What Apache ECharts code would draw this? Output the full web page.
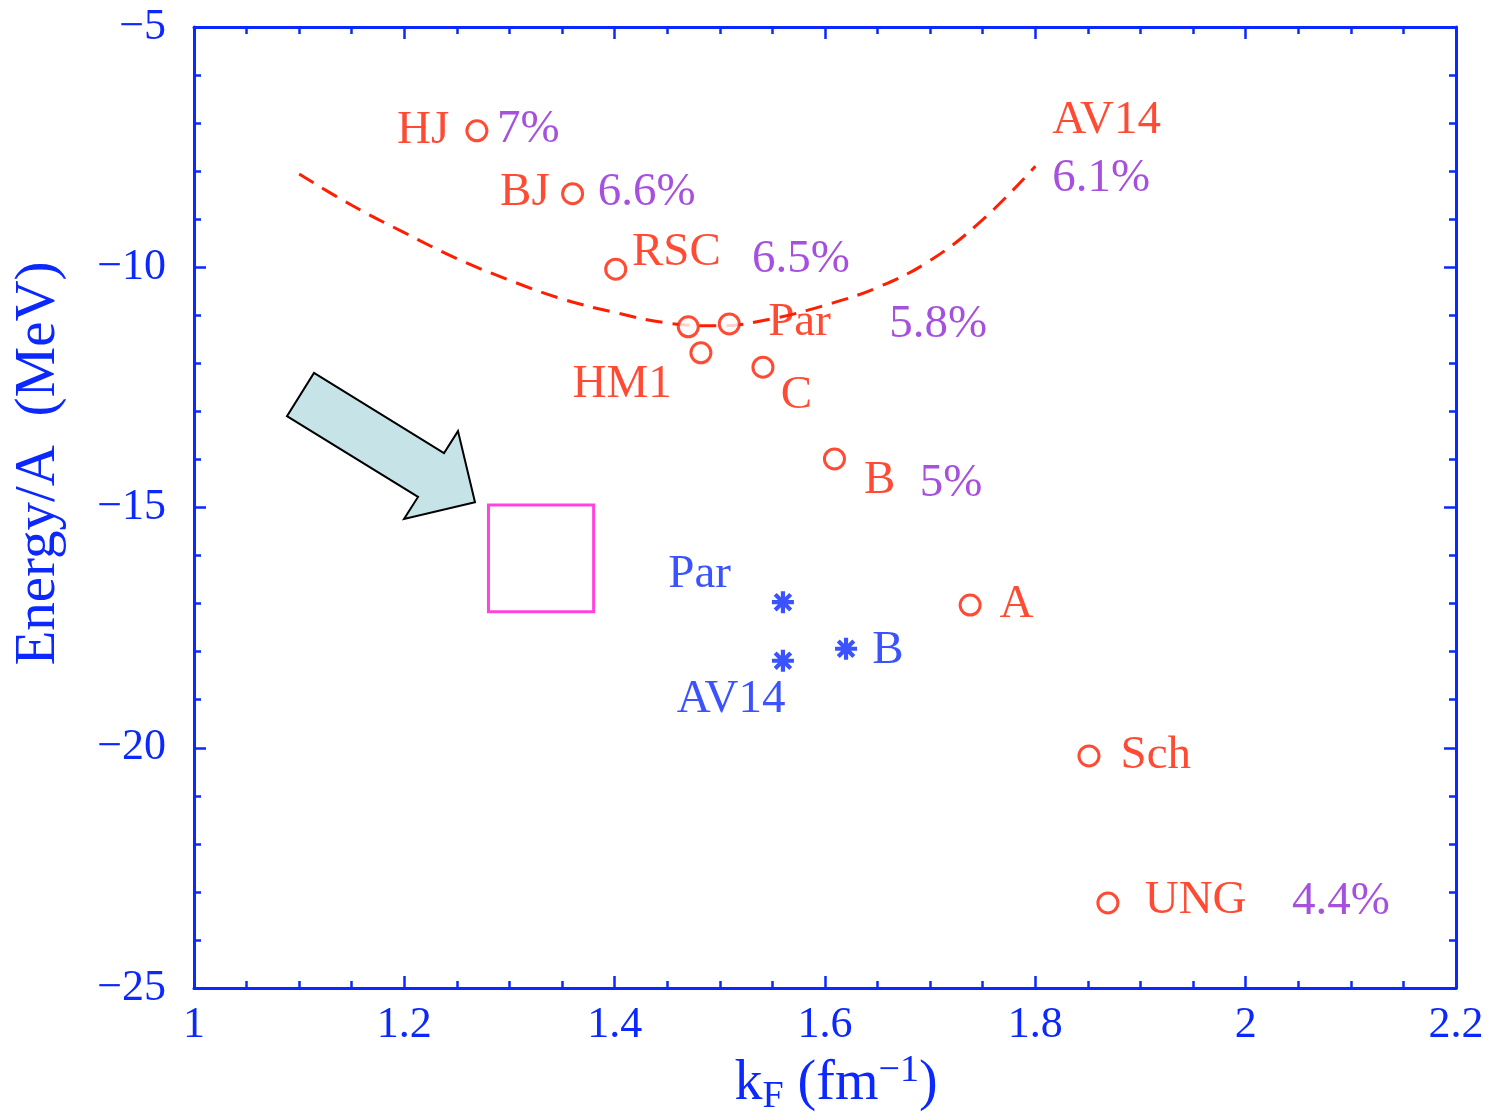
<!DOCTYPE html>
<html><head><meta charset="utf-8">
<script src="https://cdn.jsdelivr.net/npm/echarts@6/dist/echarts.min.js"></script>
<style>html,body{margin:0;padding:0;background:#fff}#chart{width:1492px;height:1118px}</style>
</head><body><div id="chart"></div>
<script>
const FONT = '"Liberation Serif","Times New Roman",serif';
const BLUE = '#0a28ff', RED = '#ff1e00', PURPLE = '#9026d6';

// axis ranges / ticks
const xMin = 1, xMax = 2.2, xStep = 0.2;
const yMin = -25, yMax = -5, yStep = 5;

// non-relativistic (BHF) saturation points, red circles
const potNames = ['HJ', 'BJ', 'RSC', 'AV14', 'Par', 'HM1', 'C', 'B', 'A', 'Sch', 'UNG'];
const potKF = [1.269, 1.360, 1.401, 1.470, 1.509, 1.482, 1.541, 1.609, 1.738, 1.851, 1.869];
const potE  = [-7.16, -8.47, -10.04, -11.24, -11.18, -11.78, -12.08, -13.99, -17.03, -20.17, -23.23];

// relativistic (DBHF) points, blue asterisks
const relNames = ['Par', 'B', 'AV14'];
const relKF = [1.560, 1.620, 1.560];
const relE  = [-16.97, -17.94, -18.19];

// AV14 dashed curve
const av14KF = [1.10, 1.15, 1.20, 1.25, 1.30, 1.35, 1.40, 1.45, 1.50, 1.55, 1.60, 1.65, 1.70, 1.75, 1.80];
const av14E  = [-8.06, -8.71, -9.28, -9.82, -10.27, -10.66, -10.94, -11.16, -11.22, -11.07, -10.79, -10.42, -9.86, -9.01, -7.90];

// empirical saturation box
const boxKF = [1.28, 1.38];
const boxE  = [-14.95, -17.17];

// arrow annotation (data coordinates)
const arrowKF = [1.1141, 1.2377, 1.2510, 1.2672, 1.1997, 1.2130, 1.0884];
const arrowE  = [-12.20, -13.87, -13.41, -14.89, -15.24, -14.78, -13.10];

// text annotations
const redLabelText = ['HJ', 'BJ', 'RSC', 'Par', 'HM1', 'C', 'B', 'A', 'Sch', 'UNG', 'AV14'];
const redLabelKF   = [1.193, 1.291, 1.4165, 1.546, 1.360, 1.558, 1.637, 1.766, 1.881, 1.904, 1.816];
const redLabelE    = [-7.10, -8.39, -9.64, -11.10, -12.39, -12.62, -14.37, -16.95, -20.11, -23.11, -6.89];
const pctLabelText = ['7%', '6.6%', '6.5%', '5.8%', '5%', '4.4%', '6.1%'];
const pctLabelKF   = [1.288, 1.384, 1.5306, 1.661, 1.690, 2.044, 1.816];
const pctLabelE    = [-7.08, -8.39, -9.77, -11.14, -14.45, -23.15, -8.10];
const blueLabelText = ['Par', 'B', 'AV14'];
const blueLabelKF   = [1.451, 1.645, 1.459];
const blueLabelE    = [-16.34, -17.92, -18.94];

const STAR = 'path://M-10,-1.9L10,-1.9L10,1.9L-10,1.9Z M-1.9,-10L1.9,-10L1.9,10L-1.9,10Z M-8.41,-5.73L-5.73,-8.41L8.41,5.73L5.73,8.41Z M-5.73,8.41L-8.41,5.73L5.73,-8.41L8.41,-5.73Z';

const fmt = v => (Math.round(v * 10) / 10).toString().replace('-', '\u2212');

const axisLineStyle = {show: true, onZero: false, lineStyle: {color: BLUE, width: 3}};
const tickStyle = {show: true, inside: true, length: 12, lineStyle: {color: BLUE, width: 2.5}};
const minorStyle = {show: true, length: 7, lineStyle: {color: BLUE, width: 2.5}};

function labelSeries(texts, xs, ys, color) {
  return {
    type: 'scatter', xAxisIndex: 0, yAxisIndex: 0, silent: true, z: 10,
    symbolSize: 0,
    itemStyle: {color: 'rgba(0,0,0,0)'},
    data: texts.map((t, i) => ({name: t, value: [xs[i], ys[i]]})),
    label: {show: true, position: 'right', distance: 0, offset: [0, 3], formatter: '{b}',
            color: color, fontSize: 47, fontFamily: FONT}
  };
}

const chart = echarts.init(document.getElementById('chart'), null, {renderer: 'canvas'});
chart.setOption({
  animation: false,
  backgroundColor: '#fff',
  grid: {left: 194, right: 36, top: 27, bottom: 130, containLabel: false, outerBoundsMode: 'none'},
  xAxis: [{
    type: 'value', min: xMin, max: xMax, interval: xStep, position: 'bottom',
    axisLine: axisLineStyle, axisTick: tickStyle,
    minorTick: Object.assign({splitNumber: 4}, minorStyle),
    splitLine: {show: false},
    axisLabel: {color: BLUE, fontSize: 44, fontFamily: FONT, margin: 15, formatter: fmt},
    name: '{b|k}{sub|F}{b| (fm}{sup|\u22121}{b|)}',
    nameLocation: 'middle', nameGap: 58,
    nameTextStyle: {
      color: BLUE, fontFamily: FONT, fontSize: 56, padding: [0, 0, 0, 22],
      rich: {
        b: {color: BLUE, fontFamily: FONT, fontSize: 56, lineHeight: 64},
        sub: {color: BLUE, fontFamily: FONT, fontSize: 38, lineHeight: 36, verticalAlign: 'bottom'},
        sup: {color: BLUE, fontFamily: FONT, fontSize: 38, lineHeight: 28, verticalAlign: 'top'}
      }
    }
  }, {
    type: 'value', min: xMin, max: xMax, interval: xStep, position: 'top',
    axisLine: axisLineStyle, axisTick: tickStyle,
    minorTick: Object.assign({splitNumber: 4}, minorStyle),
    splitLine: {show: false}, axisLabel: {show: false}
  }],
  yAxis: [{
    type: 'value', min: yMin, max: yMax, interval: yStep, position: 'left',
    axisLine: axisLineStyle, axisTick: tickStyle,
    minorTick: Object.assign({splitNumber: 5}, minorStyle),
    splitLine: {show: false},
    axisLabel: {color: BLUE, fontSize: 44, fontFamily: FONT, margin: 28, formatter: fmt},
    name: 'Energy/A  (MeV)', nameLocation: 'middle', nameGap: 126,
    nameTextStyle: {color: BLUE, fontFamily: FONT, fontSize: 57, padding: [0, 0, 0, 88]}
  }, {
    type: 'value', min: yMin, max: yMax, interval: yStep, position: 'right',
    axisLine: axisLineStyle, axisTick: tickStyle,
    minorTick: Object.assign({splitNumber: 5}, minorStyle),
    splitLine: {show: false}, axisLabel: {show: false}
  }],
  series: [
    {
      type: 'line', name: 'AV14 curve', xAxisIndex: 0, yAxisIndex: 0,
      data: av14KF.map((x, i) => [x, av14E[i]]),
      smooth: 0.4, showSymbol: false, silent: true, z: 2,
      lineStyle: {color: RED, width: 3, type: [17, 10]},
      markArea: {
        silent: true,
        itemStyle: {color: 'rgba(0,0,0,0)', borderColor: '#ff44dd', borderWidth: 3},
        label: {show: false},
        data: [[{coord: [boxKF[0], boxE[0]]}, {coord: [boxKF[1], boxE[1]]}]]
      }
    },
    {
      type: 'custom', name: 'arrow', xAxisIndex: 0, yAxisIndex: 0, silent: true, z: 3,
      data: [[arrowKF[0], arrowE[0]]],
      renderItem: (params, api) => ({
        type: 'polygon',
        shape: {points: arrowKF.map((x, i) => api.coord([x, arrowE[i]]))},
        style: {fill: '#c6e4e7', stroke: '#000', lineWidth: 2}
      })
    },
    {
      type: 'scatter', name: 'BHF', xAxisIndex: 0, yAxisIndex: 0, z: 5,
      symbol: 'circle', symbolSize: 20,
      itemStyle: {color: '#fff', borderColor: RED, borderWidth: 3},
      data: potKF.map((x, i) => ({name: potNames[i], value: [x, potE[i]]}))
    },
    {
      type: 'scatter', name: 'DBHF', xAxisIndex: 0, yAxisIndex: 0, z: 5,
      symbol: STAR, symbolSize: 22,
      itemStyle: {color: BLUE},
      data: relKF.map((x, i) => ({name: relNames[i], value: [x, relE[i]]}))
    },
    labelSeries(redLabelText, redLabelKF, redLabelE, RED),
    labelSeries(pctLabelText, pctLabelKF, pctLabelE, PURPLE),
    labelSeries(blueLabelText, blueLabelKF, blueLabelE, BLUE)
  ]
});
</script>
</body></html>
